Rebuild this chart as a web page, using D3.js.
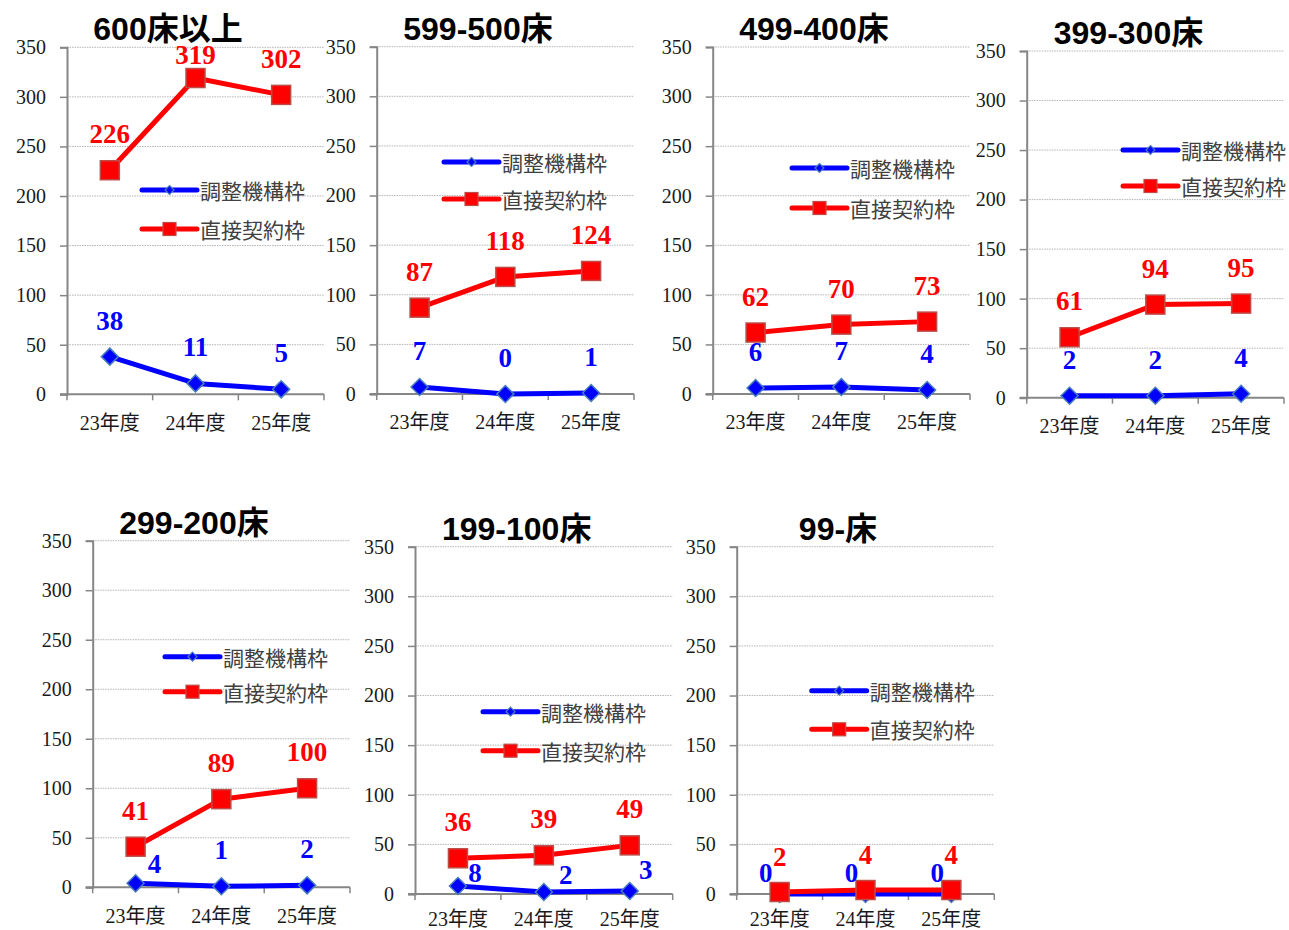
<!DOCTYPE html>
<html><head><meta charset="utf-8">
<script src="https://cdn.jsdelivr.net/npm/d3@7/dist/d3.min.js"></script>
<style>
html,body{margin:0;padding:0;background:#fff;}
svg{display:block;}
</style>
</head><body>
<svg id="chart" width="1289" height="930"></svg>
<script>
// ---------- data ----------
const categories = ["23年度", "24年度", "25年度"];
const panelTitles = ["600床以上", "599-500床", "499-400床", "399-300床", "299-200床", "199-100床", "99-床"];
const seriesNames = ["調整機構枠", "直接契約枠"];
const adjustValues = [[38, 11, 5], [7, 0, 1], [6, 7, 4], [2, 2, 4], [4, 1, 2], [8, 2, 3], [0, 0, 0]];
const directValues = [[226, 319, 302], [87, 118, 124], [62, 70, 73], [61, 94, 95], [41, 89, 100], [36, 39, 49], [2, 4, 4]];
const yTicks = [0, 50, 100, 150, 200, 250, 300, 350];
const yMax = 350;

// ---------- layout (positions only) ----------
const layout = [
  {ax: 67,    right: 324,   top: 47.3,  bottom: 394.3, tx: 168,   ty: 40,  lx: 142,   ly1: 190,   ly2: 229,   xl: 29},
  {ax: 376.7, right: 634,   top: 46.7,  bottom: 394,   tx: 478,   ty: 40,  lx: 444,   ly1: 162,   ly2: 199,   xl: 29},
  {ax: 712.7, right: 970,   top: 47,    bottom: 394,   tx: 814,   ty: 40,  lx: 792,   ly1: 168,   ly2: 208,   xl: 29},
  {ax: 1026.7,right: 1284,  top: 51,    bottom: 397.7, tx: 1128.5,ty: 44,  lx: 1123,  ly1: 150,   ly2: 186,   xl: 29},
  {ax: 92.7,  right: 350,   top: 540.7, bottom: 887.3, tx: 194,   ty: 534, lx: 165,   ly1: 656.7, ly2: 691.7, xl: 29},
  {ax: 415,   right: 672.7, top: 546.7, bottom: 894,   tx: 516.7, ty: 540, lx: 483,   ly1: 711.7, ly2: 750.7, xl: 26},
  {ax: 736.7, right: 994.3, top: 546.7, bottom: 894,   tx: 838,   ty: 540, lx: 811.7, ly1: 690.7, ly2: 729.3, xl: 26}
];
const defOff = [0, -36];
// label offsets [panel][series][point] = [dx, dy]
const labelOffsets = [
  [[defOff, defOff, defOff], [defOff, [0, -23], defOff]],
  [[defOff, defOff, defOff], [defOff, defOff, defOff]],
  [[defOff, defOff, defOff], [defOff, defOff, defOff]],
  [[defOff, defOff, defOff], [defOff, defOff, defOff]],
  [[[19, -19], defOff, defOff], [defOff, defOff, defOff]],
  [[[17, -13], [22, -17], [16, -21]], [defOff, defOff, defOff]],
  [[[-14, -21], [-14, -21], [-14, -21]], [[0, -35], [0, -35], [0, -35]]]
];

const colors = {
  blue: "#0000ff", blueEdge: "#4a7ebb",
  red: "#ff0000", redEdge: "#be4b48",
  axis: "#868686", grid: "#b4b4b4"
};
const serifNum = "'Liberation Serif', 'Noto Sans CJK JP', serif";
const labelFont = "'Liberation Serif', serif";

const svg = d3.select("#chart");

const diamond = (s) => `M0,${-s}L${s},0L0,${s}L${-s},0Z`;

layout.forEach((L, p) => {
  const g = svg.append("g");
  const x = d3.scaleBand().domain(categories).range([L.ax, L.right]).padding(0);
  const y = d3.scaleLinear().domain([0, yMax]).range([L.bottom, L.top]);
  const cx = d => x(d) + x.bandwidth() / 2;

  // gridlines
  g.selectAll("line.grid").data(yTicks.filter(t => t > 0)).join("line")
    .attr("x1", L.ax).attr("x2", L.right)
    .attr("y1", d => y(d)).attr("y2", d => y(d))
    .attr("stroke", colors.grid).attr("stroke-width", 1)
    .attr("stroke-dasharray", "1.5,1");

  // y axis
  const yAxis = d3.axisLeft(y).tickValues(yTicks).tickSize(7).tickPadding(14).tickFormat(d3.format("d"));
  const ya = g.append("g").attr("transform", `translate(${L.ax},0)`).call(yAxis);
  ya.select(".domain").attr("stroke", colors.axis).attr("stroke-width", 2);
  ya.selectAll(".tick line").attr("stroke", colors.axis).attr("stroke-width", 1.5);
  ya.selectAll(".tick text").attr("font-family", serifNum).attr("font-size", 20).attr("fill", "#1a1a1a");

  // x axis
  const xAxis = d3.axisBottom(x).tickSize(0).tickPadding(20);
  const xa = g.append("g").attr("transform", `translate(0,${L.bottom})`).call(xAxis);
  xa.select(".domain").remove();
  xa.selectAll(".tick text").attr("font-family", serifNum).attr("font-size", 20).attr("fill", "#1a1a1a")
    .attr("dy", "0.32em").attr("y", L.xl);
  g.append("line").attr("x1", L.ax - 7).attr("x2", L.right).attr("y1", L.bottom).attr("y2", L.bottom)
    .attr("stroke", colors.axis).attr("stroke-width", 2);
  const bounds = d3.range(categories.length + 1).map(i => L.ax + i * x.step());
  g.selectAll("line.xt").data(bounds).join("line")
    .attr("x1", d => d).attr("x2", d => d).attr("y1", L.bottom).attr("y2", L.bottom + 6)
    .attr("stroke", colors.axis).attr("stroke-width", 1.5);

  // title
  g.append("text").attr("x", L.tx).attr("y", L.ty).attr("text-anchor", "middle")
    .attr("font-family", "'Liberation Sans', 'Noto Sans CJK JP', sans-serif")
    .attr("font-weight", "bold").attr("font-size", 32).attr("fill", "#000")
    .text(panelTitles[p]);

  const line = d3.line().x((d, i) => cx(categories[i])).y(d => y(d));

  // blue series
  const bv = adjustValues[p], rv = directValues[p];
  g.append("path").datum(bv).attr("d", line).attr("fill", "none")
    .attr("stroke", colors.blue).attr("stroke-width", 5).attr("stroke-linejoin", "round").attr("stroke-linecap", "round");
  g.selectAll("path.dm").data(bv).join("path")
    .attr("transform", (d, i) => `translate(${cx(categories[i])},${y(d)})`)
    .attr("d", diamond(8.5)).attr("fill", colors.blue).attr("stroke", colors.blueEdge).attr("stroke-width", 1.5);

  // red series
  g.append("path").datum(rv).attr("d", line).attr("fill", "none")
    .attr("stroke", colors.red).attr("stroke-width", 5).attr("stroke-linejoin", "round").attr("stroke-linecap", "round");
  g.selectAll("rect.sq").data(rv).join("rect")
    .attr("x", (d, i) => cx(categories[i]) - 9.5).attr("y", d => y(d) - 9.5)
    .attr("width", 19).attr("height", 19)
    .attr("fill", colors.red).attr("stroke", colors.redEdge).attr("stroke-width", 1.5);

  // data labels
  [[bv, colors.blue], [rv, colors.red]].forEach(([vals, col], s) => {
    g.selectAll(null).data(vals).join("text")
      .attr("x", (d, i) => cx(categories[i]) + labelOffsets[p][s][i][0])
      .attr("y", (d, i) => y(d) + labelOffsets[p][s][i][1])
      .attr("text-anchor", "middle").attr("dominant-baseline", "central")
      .attr("font-family", labelFont).attr("font-weight", "bold").attr("font-size", 27)
      .attr("fill", col).text(d => d);
  });

  // legend
  const leg = [[L.ly1, colors.blue, "d"], [L.ly2, colors.red, "s"]];
  leg.forEach(([ly, col, kind], s) => {
    g.append("line").attr("x1", L.lx).attr("x2", L.lx + 55).attr("y1", ly).attr("y2", ly)
      .attr("stroke", col).attr("stroke-width", 5).attr("stroke-linecap", "round");
    if (kind === "d") {
      g.append("path").attr("transform", `translate(${L.lx + 27.5},${ly})`).attr("d", diamond(4.5))
        .attr("fill", colors.blue).attr("stroke", colors.blueEdge).attr("stroke-width", 1.2);
    } else {
      g.append("rect").attr("x", L.lx + 27.5 - 6.5).attr("y", ly - 6.5).attr("width", 13).attr("height", 13)
        .attr("fill", colors.red).attr("stroke", colors.redEdge).attr("stroke-width", 1.2);
    }
    g.append("text").attr("x", L.lx + 58).attr("y", ly).attr("dominant-baseline", "central")
      .attr("font-family", "'Noto Sans CJK JP', sans-serif").attr("font-size", 21).attr("fill", "#404040")
      .text(seriesNames[s]);
  });
});
</script>
</body></html>
